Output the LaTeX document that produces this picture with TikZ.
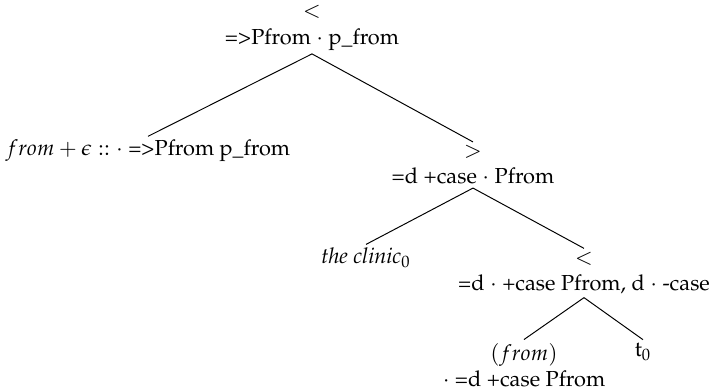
\documentclass[tikz,border=0pt]{standalone}
\usepackage[T1]{fontenc}
\usepackage{mathpazo}
\begin{document}
\begin{tikzpicture}[x=0.46pt,y=-0.46pt,
  tn/.style={align=center,inner sep=1.5pt,font=\normalsize},
  br/.style={line width=0.45pt}]
\useasboundingbox (0,0) rectangle (712,391);
% tree nodes
\node[tn] (root) at (312,28) {$<$\\=>Pfrom $\cdot$ p\_from};
\node[tn] (sel) at (148,151) {$from+\epsilon::\cdot$ =>Pfrom p\_from};
\node[tn] (pp) at (473,165) {$>$\\=d +case $\cdot$ Pfrom};
\node[tn] (dp) at (366,258) {\textit{the clinic}$_0$};
\node[tn] (pbar) at (584,273) {$<$\\=d $\cdot$ +case Pfrom, d $\cdot$ -case};
\node[tn] (hd) at (524,365) {$(from)$\\$\cdot$ =d +case Pfrom};
\node[tn] (tr) at (643,352) {t$_0$};
% branches
\draw[br] (root.south) -- (sel.north);
\draw[br] (root.south) -- (pp.north);
\draw[br] (pp.south) -- (dp.north);
\draw[br] (pp.south) -- (pbar.north);
\draw[br] (pbar.south) -- (hd.north);
\draw[br] (pbar.south) -- (tr.north);
\end{tikzpicture}
\end{document}
